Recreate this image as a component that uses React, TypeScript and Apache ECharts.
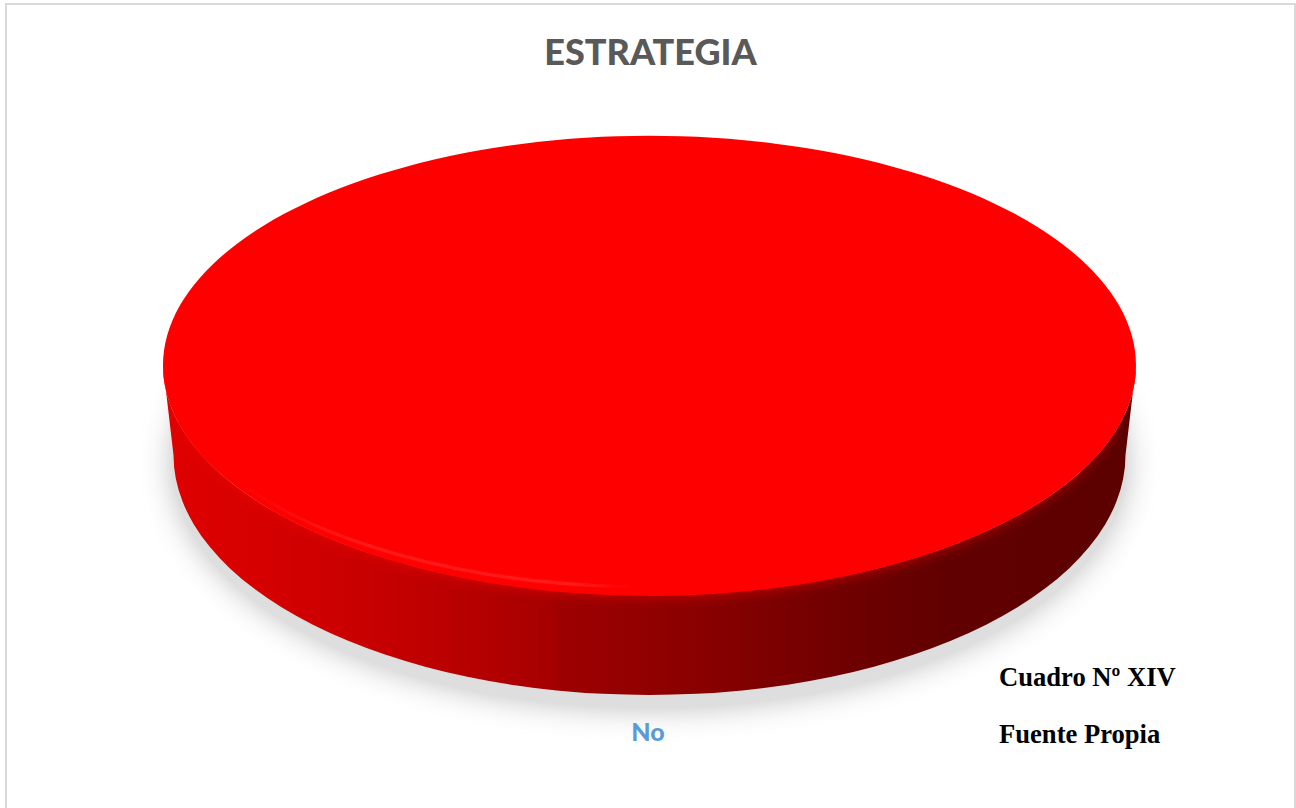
import React, { useEffect, useRef } from "react";
import * as echarts from "echarts";

const titleText = "ESTRATEGIA";
const categories = ["No"];
const seriesValues = [100];
const noteLines = ["Cuadro Nº XIV", "Fuente Propia"];

// Side-wall shading, left to right across the disc.
const wallStops: [number, string][] = [
  [0, "#e00000"],
  [0.1, "#d60000"],
  [0.25, "#c20000"],
  [0.4, "#a60000"],
  [0.408, "#9e0000"],
  [0.55, "#8a0000"],
  [0.7, "#700000"],
  [0.8, "#620000"],
  [1, "#5c0000"],
];

const total = seriesValues.reduce((a, b) => a + b, 0);

function renderDisc(params: any, api: any) {
  const share = api.value(0) / total;
  const start = -Math.PI / 2;
  const end = start + share * Math.PI * 2;
  const cx = 649.5;
  const top = { cy: 365.5, rx: 486.5, ry: 229.5 };
  const base = { cy: 455, rx: 476, ry: 240 };

  const wall =
    `M${cx - top.rx} ${top.cy} L${cx - base.rx} ${base.cy} ` +
    `A${base.rx} ${base.ry} 0 0 0 ${cx + base.rx} ${base.cy} ` +
    `L${cx + top.rx} ${top.cy} A${top.rx} ${top.ry} 0 0 1 ${cx - top.rx} ${top.cy} Z`;

  const onEllipse = (rx: number, ry: number, deg: number) => {
    const a = (deg * Math.PI) / 180;
    return [cx + rx * Math.cos(a), top.cy + ry * Math.sin(a)];
  };

  // Soft glow of the top face over the wall; stops short of the silhouette.
  const rimRx = top.rx - 5;
  const rimRy = top.ry - 1;
  const [rx0, ry0] = onEllipse(rimRx, rimRy, 164);
  const [rx1, ry1] = onEllipse(rimRx, rimRy, 16);
  const lowerRim = `M${rx0} ${ry0} A${rimRx} ${rimRy} 0 0 0 ${rx1} ${ry1}`;

  // Highlight that follows the front-left of the bevel, just inside the rim.
  const hiRx = top.rx - 4;
  const hiRy = top.ry - 8;
  const [hx0, hy0] = onEllipse(hiRx, hiRy, 150);
  const [hx1, hy1] = onEllipse(hiRx, hiRy, 92);
  const highlight = `M${hx0} ${hy0} A${hiRx} ${hiRy} 0 0 0 ${hx1} ${hy1}`;

  return {
    type: "group",
    children: [
      {
        type: "ellipse",
        shape: { cx, cy: base.cy + 8, rx: base.rx + 2, ry: base.ry + 6 },
        style: { fill: "#dedede", shadowBlur: 30, shadowColor: "#c0c0c0" },
      },
      {
        type: "path",
        shape: { pathData: wall },
        style: {
          fill: new echarts.graphic.LinearGradient(
            0,
            0,
            1,
            0,
            wallStops.map(([offset, color]) => ({ offset, color }))
          ),
        },
      },
      {
        type: "path",
        shape: { pathData: lowerRim },
        style: { fill: "none", stroke: "#ff0000", lineWidth: 4, shadowBlur: 12, shadowColor: "#ff0000" },
      },
      {
        type: "sector",
        x: cx,
        y: top.cy,
        scaleY: top.ry / top.rx,
        shape: { cx: 0, cy: 0, r: top.rx, r0: 0, startAngle: start, endAngle: end },
        style: { fill: "#ff0000" },
      },
      {
        type: "path",
        shape: { pathData: highlight },
        style: {
          fill: "none",
          lineWidth: 3,
          shadowBlur: 4,
          shadowColor: "rgba(255,60,60,0.4)",
          stroke: new echarts.graphic.LinearGradient(0, 0, 1, 0, [
            { offset: 0, color: "rgba(255,60,60,0)" },
            { offset: 0.35, color: "rgba(255,60,60,0.4)" },
            { offset: 0.85, color: "rgba(255,60,60,0.4)" },
            { offset: 1, color: "rgba(255,60,60,0)" },
          ]),
        },
      },
      {
        type: "text",
        x: 648,
        y: 731,
        style: {
          text: categories[params.dataIndex],
          fill: "#5b9bd5",
          font: "900 25px Lato, sans-serif",
          align: "center",
          verticalAlign: "middle",
        },
      },
    ],
  };
}

export default function App() {
  const ref = useRef<HTMLDivElement>(null);

  useEffect(() => {
    const chart = echarts.init(ref.current!, undefined, { renderer: "svg" });
    chart.setOption({
      animation: false,
      backgroundColor: "#ffffff",
      title: {
        text: titleText,
        left: 645.5,
        top: 28,
        textAlign: "center",
        textStyle: { color: "#595959", fontFamily: "Lato, sans-serif", fontWeight: 900, fontSize: 36 },
      },
      graphic: [
        {
          type: "rect",
          shape: { x: 6, y: 4, width: 1289, height: 820 },
          style: { fill: "none", stroke: "#d9d9d9", lineWidth: 2 },
        },
        ...noteLines.map((line, i) => ({
          type: "text",
          x: 999,
          y: 677 + i * 57,
          style: {
            text: line,
            fill: "#000000",
            font: "700 26.6px 'Liberation Serif', serif",
            verticalAlign: "middle",
          },
        })),
      ],
      series: [
        {
          type: "custom",
          coordinateSystem: "none",
          renderItem: renderDisc,
          data: seriesValues.map((v) => [v]),
        },
      ],
    });
    return () => chart.dispose();
  }, []);

  return <div ref={ref} style={{ position: "fixed", left: 0, top: 0, width: 1296, height: 808 }} />;
}
